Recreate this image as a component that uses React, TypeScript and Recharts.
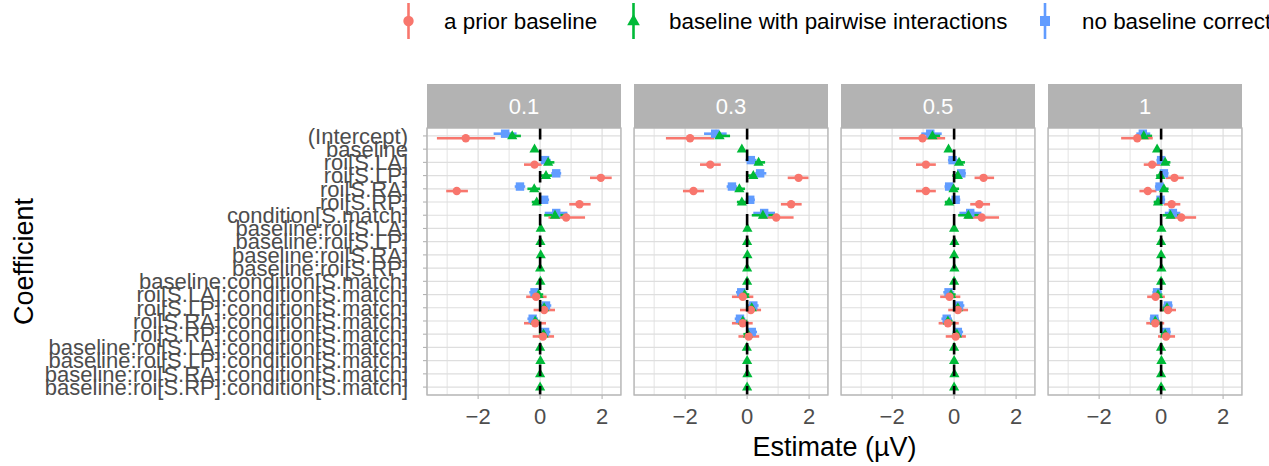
import React from "react";
import { ScatterChart, Scatter, XAxis, YAxis, CartesianGrid, ErrorBar, ReferenceLine } from "recharts";

// coefficient names, top to bottom
const coefs = [
  "(Intercept)",
  "baseline",
  "roi[S.LA]",
  "roi[S.LP]",
  "roi[S.RA]",
  "roi[S.RP]",
  "condition[S.match]",
  "baseline:roi[S.LA]",
  "baseline:roi[S.LP]",
  "baseline:roi[S.RA]",
  "baseline:roi[S.RP]",
  "baseline:condition[S.match]",
  "roi[S.LA]:condition[S.match]",
  "roi[S.LP]:condition[S.match]",
  "roi[S.RA]:condition[S.match]",
  "roi[S.RP]:condition[S.match]",
  "baseline:roi[S.LA]:condition[S.match]",
  "baseline:roi[S.LP]:condition[S.match]",
  "baseline:roi[S.RA]:condition[S.match]",
  "baseline:roi[S.RP]:condition[S.match]",
];

const panels = ["0.1", "0.3", "0.5", "1"];
const seriesNames = ["a prior baseline", "baseline with pairwise interactions", "no baseline correction"];
const COLORS = ["#F8766D", "#00BA38", "#619CFF"];
const xTicks = [-2, 0, 2];
const xMinorTicks = [-3, -1, 1];

// [estimate, lower, upper] per coefficient, null = not in model
type Est = [number, number, number] | null;

// ---- panel 0.1
const prior01: Est[] = [
  [-2.4, -3.33, -1.45], null, [-0.18, -0.52, 0.05], [1.96, 1.61, 2.31], [-2.69, -3.03, -2.33], [1.27, 0.94, 1.63],
  [0.84, 0.27, 1.45], null, null, null, null, null,
  [-0.13, -0.45, 0.21], [0.13, -0.21, 0.48], [-0.16, -0.52, 0.19], [0.09, -0.24, 0.45], null, null, null, null,
];
const pair01: Est[] = [
  [-0.9, -1.12, -0.62], [-0.18, -0.24, -0.12], [0.26, 0.06, 0.46], [0.19, 0.0, 0.38], [-0.19, -0.41, 0.0], [-0.11, -0.27, 0.05],
  [0.48, 0.13, 0.88], [0.02, -0.03, 0.07], [0.01, -0.04, 0.06], [0.02, -0.03, 0.07], [0.0, -0.05, 0.05], [0.01, -0.04, 0.06],
  [-0.05, -0.2, 0.1], [0.13, -0.02, 0.28], [-0.16, -0.31, -0.01], [0.11, -0.04, 0.26], [0.0, -0.05, 0.05], [0.01, -0.04, 0.06], [0.0, -0.05, 0.05], [0.0, -0.05, 0.05],
];
const none01: Est[] = [
  [-1.13, -1.5, -0.76], null, [0.16, -0.02, 0.34], [0.52, 0.36, 0.68], [-0.65, -0.82, -0.48], [0.13, -0.03, 0.29],
  [0.52, 0.15, 0.88], null, null, null, null, null,
  [-0.18, -0.35, -0.01], [0.19, 0.02, 0.36], [-0.24, -0.41, -0.07], [0.16, -0.01, 0.33], null, null, null, null,
];

// ---- panel 0.3
const prior03: Est[] = [
  [-1.84, -2.62, -1.06], null, [-1.19, -1.52, -0.85], [1.66, 1.31, 1.98], [-1.73, -2.07, -1.39], [1.42, 1.09, 1.76],
  [0.94, 0.4, 1.5], null, null, null, null, null,
  [-0.14, -0.49, 0.2], [0.12, -0.23, 0.45], [-0.14, -0.49, 0.18], [0.05, -0.28, 0.39], null, null, null, null,
];
const pair03: Est[] = [
  [-0.89, -1.14, -0.55], [-0.17, -0.23, -0.11], [0.37, 0.18, 0.58], [0.2, 0.02, 0.38], [-0.25, -0.44, -0.07], [-0.17, -0.33, -0.01],
  [0.51, 0.15, 0.87], [0.01, -0.04, 0.06], [0.0, -0.05, 0.05], [0.01, -0.04, 0.06], [0.0, -0.05, 0.05], [0.0, -0.05, 0.05],
  [-0.08, -0.23, 0.07], [0.15, 0.0, 0.3], [-0.14, -0.29, 0.01], [0.03, -0.12, 0.18], [-0.01, -0.06, 0.04], [0.0, -0.05, 0.05], [0.01, -0.04, 0.06], [0.0, -0.05, 0.05],
];
const none03: Est[] = [
  [-1.03, -1.39, -0.66], null, [0.12, -0.05, 0.3], [0.42, 0.26, 0.62], [-0.49, -0.66, -0.33], [0.1, -0.05, 0.25],
  [0.55, 0.2, 0.9], null, null, null, null, null,
  [-0.19, -0.36, -0.02], [0.2, 0.03, 0.37], [-0.23, -0.4, -0.06], [0.15, -0.02, 0.32], null, null, null, null,
];

// ---- panel 0.5
const prior05: Est[] = [
  [-1.02, -1.77, -0.29], null, [-0.91, -1.23, -0.59], [0.95, 0.66, 1.29], [-0.91, -1.23, -0.59], [0.81, 0.52, 1.16],
  [0.89, 0.35, 1.45], null, null, null, null, null,
  [-0.15, -0.45, 0.2], [0.12, -0.19, 0.45], [-0.2, -0.5, 0.15], [0.05, -0.27, 0.38], null, null, null, null,
];
const pair05: Est[] = [
  [-0.7, -0.88, -0.45], [-0.18, -0.24, -0.12], [0.16, -0.02, 0.35], [0.12, -0.06, 0.3], [-0.02, -0.18, 0.16], [-0.16, -0.3, -0.02],
  [0.46, 0.13, 0.81], [0.0, -0.05, 0.05], [0.01, -0.04, 0.06], [0.0, -0.05, 0.05], [0.01, -0.04, 0.06], [0.0, -0.05, 0.05],
  [-0.1, -0.25, 0.05], [0.12, -0.03, 0.27], [-0.2, -0.35, -0.05], [0.09, -0.06, 0.24], [0.0, -0.05, 0.05], [0.0, -0.05, 0.05], [0.01, -0.04, 0.06], [0.0, -0.05, 0.05],
];
const none05: Est[] = [
  [-0.77, -1.06, -0.4], null, [-0.05, -0.2, 0.12], [0.23, 0.05, 0.38], [-0.16, -0.31, 0.0], [0.05, -0.1, 0.2],
  [0.52, 0.17, 0.88], null, null, null, null, null,
  [-0.18, -0.35, -0.01], [0.16, -0.01, 0.33], [-0.24, -0.41, -0.07], [0.12, -0.05, 0.29], null, null, null, null,
];

// ---- panel 1
const prior1: Est[] = [
  [-0.77, -1.29, -0.27], null, [-0.29, -0.56, -0.03], [0.43, 0.15, 0.73], [-0.43, -0.7, -0.15], [0.34, 0.08, 0.62],
  [0.65, 0.2, 1.13], null, null, null, null, null,
  [-0.18, -0.45, 0.12], [0.22, -0.05, 0.48], [-0.19, -0.48, 0.1], [0.16, -0.1, 0.45], null, null, null, null,
];
const pair1: Est[] = [
  [-0.56, -0.75, -0.29], [-0.13, -0.19, -0.07], [0.13, -0.03, 0.3], [-0.02, -0.16, 0.12], [0.09, -0.06, 0.24], [-0.1, -0.24, 0.04],
  [0.3, 0.05, 0.58], [0.01, -0.04, 0.06], [0.0, -0.05, 0.05], [0.0, -0.05, 0.05], [0.01, -0.04, 0.06], [0.0, -0.05, 0.05],
  [-0.1, -0.24, 0.04], [0.19, 0.05, 0.33], [-0.19, -0.33, -0.05], [0.13, -0.01, 0.27], [0.0, -0.05, 0.05], [0.01, -0.04, 0.06], [0.0, -0.05, 0.05], [0.0, -0.05, 0.05],
];
const none1: Est[] = [
  [-0.59, -0.8, -0.35], null, [0.0, -0.15, 0.15], [0.09, -0.06, 0.24], [-0.05, -0.2, 0.1], [-0.02, -0.17, 0.13],
  [0.38, 0.12, 0.62], null, null, null, null, null,
  [-0.13, -0.28, 0.02], [0.22, 0.07, 0.37], [-0.22, -0.37, -0.07], [0.16, 0.01, 0.31], null, null, null, null,
];

const panelSeries: Est[][][] = [
  [prior01, pair01, none01],
  [prior03, pair03, none03],
  [prior05, pair05, none05],
  [prior1, pair1, none1],
];

// layout
const W = 1269;
const H = 466;
const PANEL_X = [427, 634, 841, 1048];
const PANEL_W = 194;
const PANEL_TOP = 128;
const PANEL_H = 267;
const STRIP_TOP = 84;
const XAXIS_H = 50;
const DODGE = [0.17, 0, -0.17];
const FONT = '"Liberation Sans", Arial, Helvetica, sans-serif';
const rowIdx = coefs.map((_, i) => i);

const shapes = [
  (p: any) => <circle cx={p.cx} cy={p.cy} r={4.2} fill={COLORS[0]} />,
  (p: any) => (
    <polygon
      points={`${p.cx},${p.cy - 5.6} ${p.cx - 5.1},${p.cy + 3.4} ${p.cx + 5.1},${p.cy + 3.4}`}
      fill={COLORS[1]}
    />
  ),
  (p: any) => <rect x={p.cx - 4.2} y={p.cy - 4.2} width={8.4} height={8.4} fill={COLORS[2]} />,
];

function toRows(vals: Est[], s: number) {
  return vals
    .map((v, i) => (v ? { y: i + DODGE[s], est: v[0], err: [v[0] - v[1], v[2] - v[0]] } : null))
    .filter(Boolean);
}

function Panel({ idx }: { idx: number }) {
  const first = idx === 0;
  const left = first ? 0 : PANEL_X[idx];
  const width = first ? PANEL_X[0] + PANEL_W : PANEL_W;
  const series = panelSeries[idx];
  return (
    <div style={{ position: "absolute", left, top: PANEL_TOP }}>
      <ScatterChart width={width} height={PANEL_H + XAXIS_H} margin={{ top: 0, right: 0, bottom: 0, left: 0 }}>
        <CartesianGrid xAxisId="minor" horizontal={false} stroke="#E3E3E3" strokeWidth={1} />
        <CartesianGrid stroke="#DEDEDE" strokeWidth={1.2} />
        <XAxis
          xAxisId="minor"
          type="number"
          dataKey="est"
          domain={[-3.65, 2.61]}
          ticks={xMinorTicks}
          allowDataOverflow
          hide
        />
        <XAxis
          type="number"
          dataKey="est"
          domain={[-3.65, 2.61]}
          ticks={xTicks}
          allowDataOverflow
          height={XAXIS_H}
          axisLine={false}
          tickLine={{ stroke: "#B3B3B3", strokeWidth: 1.1 }}
          tickSize={4}
          tickMargin={9}
          tick={{ fontSize: 22, fill: "#4D4D4D" }}
          tickFormatter={(v: number) => (v < 0 ? "\u2212" + Math.abs(v) : String(v))}
        />
        <YAxis
          type="number"
          dataKey="y"
          domain={[-0.6, 19.6]}
          reversed
          allowDataOverflow
          ticks={rowIdx}
          interval={0}
          hide={!first}
          width={first ? PANEL_X[0] : 0}
          axisLine={false}
          tickLine={{ stroke: "#B3B3B3", strokeWidth: 1.1 }}
          tickSize={4}
          tickMargin={15}
          tick={{ fontSize: 22, fill: "#4D4D4D" }}
          tickFormatter={(v: number) => coefs[v] ?? ""}
        />
        {[2, 1, 0].map((s) => (
          <Scatter
            key={s}
            name={seriesNames[s]}
            data={toRows(series[s], s)}
            shape={shapes[s]}
            isAnimationActive={false}
          >
            <ErrorBar dataKey="err" direction="x" width={0} stroke={COLORS[s]} strokeWidth={2.6} />
          </Scatter>
        ))}
        <ReferenceLine
          segment={[{ x: 0, y: -0.6 }, { x: 0, y: 19.6 }]}
          stroke="#000000"
          strokeWidth={2.6}
          strokeDasharray="11.5 10"
          zIndex={1500}
        />
      </ScatterChart>
    </div>
  );
}

function LegendKey({ s, x }: { s: number; x: number }) {
  const cy = 21;
  const c = COLORS[s];
  return (
    <g>
      <line x1={x} x2={x} y1={3} y2={39} stroke={c} strokeWidth={2.6} />
      {s === 0 && <circle cx={x} cy={cy} r={5.2} fill={c} />}
      {s === 1 && <polygon points={`${x},${cy - 7} ${x - 6.3},${cy + 4.2} ${x + 6.3},${cy + 4.2}`} fill={c} />}
      {s === 2 && <rect x={x - 5} y={cy - 5} width={10} height={10} fill={c} />}
    </g>
  );
}

const legendKeyX = [408.5, 633.5, 1045];
const legendTextX = [444, 669, 1082];

export default function App() {
  return (
    <div
      style={{
        position: "absolute",
        left: 0,
        top: 0,
        width: W,
        height: H,
        overflow: "hidden",
        background: "#FFFFFF",
        fontFamily: FONT,
      }}
    >
      {panels.map((_, i) => (
        <Panel key={i} idx={i} />
      ))}
      <svg width={W} height={H} style={{ position: "absolute", left: 0, top: 0, pointerEvents: "none" }}>
        {/* strips and panel borders */}
        {panels.map((p, i) => (
          <g key={p}>
            <rect x={PANEL_X[i]} y={STRIP_TOP} width={PANEL_W} height={PANEL_TOP - STRIP_TOP} fill="#B3B3B3" />
            <text
              x={PANEL_X[i] + PANEL_W / 2}
              y={(STRIP_TOP + PANEL_TOP) / 2 + 7.8}
              textAnchor="middle"
              fontSize={22}
              fill="#FFFFFF"
            >
              {p}
            </text>
            <rect
              x={PANEL_X[i]}
              y={PANEL_TOP}
              width={PANEL_W}
              height={PANEL_H}
              fill="none"
              stroke="#B3B3B3"
              strokeWidth={1.3}
            />
          </g>
        ))}
        {/* axis titles */}
        <text x={834.5} y={456} textAnchor="middle" fontSize={27} fill="#000000">
          Estimate (µV)
        </text>
        <text transform={`translate(33, ${PANEL_TOP + PANEL_H / 2}) rotate(-90)`} textAnchor="middle" fontSize={27} fill="#000000">
          Coefficient
        </text>
        {/* legend */}
        {seriesNames.map((n, s) => (
          <g key={n}>
            <LegendKey s={s} x={legendKeyX[s]} />
            <text x={legendTextX[s]} y={28.9} fontSize={22.4} fill="#000000">
              {n}
            </text>
          </g>
        ))}
      </svg>
    </div>
  );
}
